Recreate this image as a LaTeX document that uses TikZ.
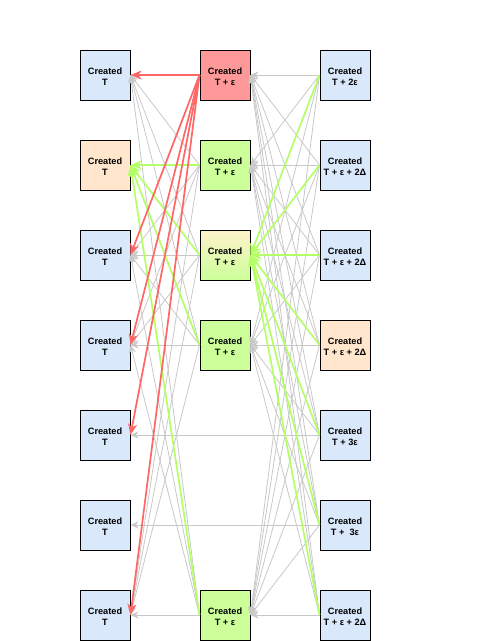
\documentclass[tikz,border=0pt]{standalone}
\usepackage{fontspec}
\setmainfont{Liberation Sans}
\usetikzlibrary{arrows.meta}
\definecolor{blueFill}{HTML}{DAE8FC}
\definecolor{orangeFill}{HTML}{FFE6CC}
\definecolor{redFill}{HTML}{FF9999}
\definecolor{greenFill}{HTML}{CCFF99}
\definecolor{beigeFill}{HTML}{FFF2CC}
\definecolor{redLine}{HTML}{FF6666}
\definecolor{greenLine}{HTML}{B3FF66}
\definecolor{grayLine}{HTML}{C8C8C8}
\tikzset{
  block/.style={draw, line width=1pt, minimum width=50pt, minimum height=50pt,
    inner sep=0pt, align=center, text height=21pt, text depth=0pt,
    font=\bfseries\fontsize{9.2}{11}\selectfont},
  ref/.style={draw=grayLine, line width=0.8pt, -{Stealth[length=8pt,width=7pt,inset=2.5pt]}},
  greenref/.style={draw=greenLine, line width=1.7pt, -{Stealth[length=11pt,width=9pt,inset=3pt]}},
  redref/.style={draw=redLine, line width=1.7pt, -{Stealth[length=11pt,width=9pt,inset=3pt]}}
}

\begin{document}
\begin{tikzpicture}[x=1pt,y=-1pt]
\useasboundingbox (0,0) rectangle (498,641);

% first round
\node[block, fill=blueFill]   (l1) at (105,75)  {Created\\T};
\node[block, fill=orangeFill] (l2) at (105,165) {Created\\T};
\node[block, fill=blueFill]   (l3) at (105,255) {Created\\T};
\node[block, fill=blueFill]   (l4) at (105,345) {Created\\T};
\node[block, fill=blueFill]   (l5) at (105,435) {Created\\T};
\node[block, fill=blueFill]   (l6) at (105,525) {Created\\T};
\node[block, fill=blueFill]   (l7) at (105,615) {Created\\T};

% second round
\node[block, fill=redFill]   (m1) at (225,75)  {Created\\T + ε};
\node[block, fill=greenFill] (m2) at (225,165) {Created\\T + ε};
\node[block, top color=beigeFill, bottom color=greenFill] (m3) at (225,255) {Created\\T + ε};
\node[block, fill=greenFill] (m4) at (225,345) {Created\\T + ε};
\node[block, fill=greenFill] (m7) at (225,615) {Created\\T + ε};

% third round
\node[block, fill=blueFill]   (r1) at (345,75)  {Created\\T + 2ε};
\node[block, fill=blueFill]   (r2) at (345,165) {Created\\T + ε + 2Δ};
\node[block, fill=blueFill]   (r3) at (345,255) {Created\\T + ε + 2Δ};
\node[block, fill=orangeFill] (r4) at (345,345) {Created\\T + ε + 2Δ};
\node[block, fill=blueFill]   (r5) at (345,435) {Created\\T + 3ε};
\node[block, fill=blueFill]   (r6) at (345,525) {Created\\T + \ 3ε};
\node[block, fill=blueFill]   (r7) at (345,615) {Created\\T + ε + 2Δ};

% references
\foreach \m in {2,3,4,7}
  \foreach \l in {1,3,4,7}
    \draw[ref] (m\m.west) -- (l\l.east);
\foreach \r in {1,...,7}
  \foreach \m in {1,2,4,7}
    \draw[ref] (r\r.west) -- (m\m.east);
\draw[ref] (r5.west) -- (l5.east);
\draw[ref] (r6.west) -- (l6.east);

% highlighted
\foreach \m in {2,3,4,7}
  \draw[greenref] (m\m.west) -- (l2.east);
\foreach \r in {1,...,7}
  \draw[greenref] (r\r.west) -- (m3.east);
\foreach \l in {1,3,4,5,7}
  \draw[redref] (m1.west) -- (l\l.east);
\end{tikzpicture}
\end{document}
